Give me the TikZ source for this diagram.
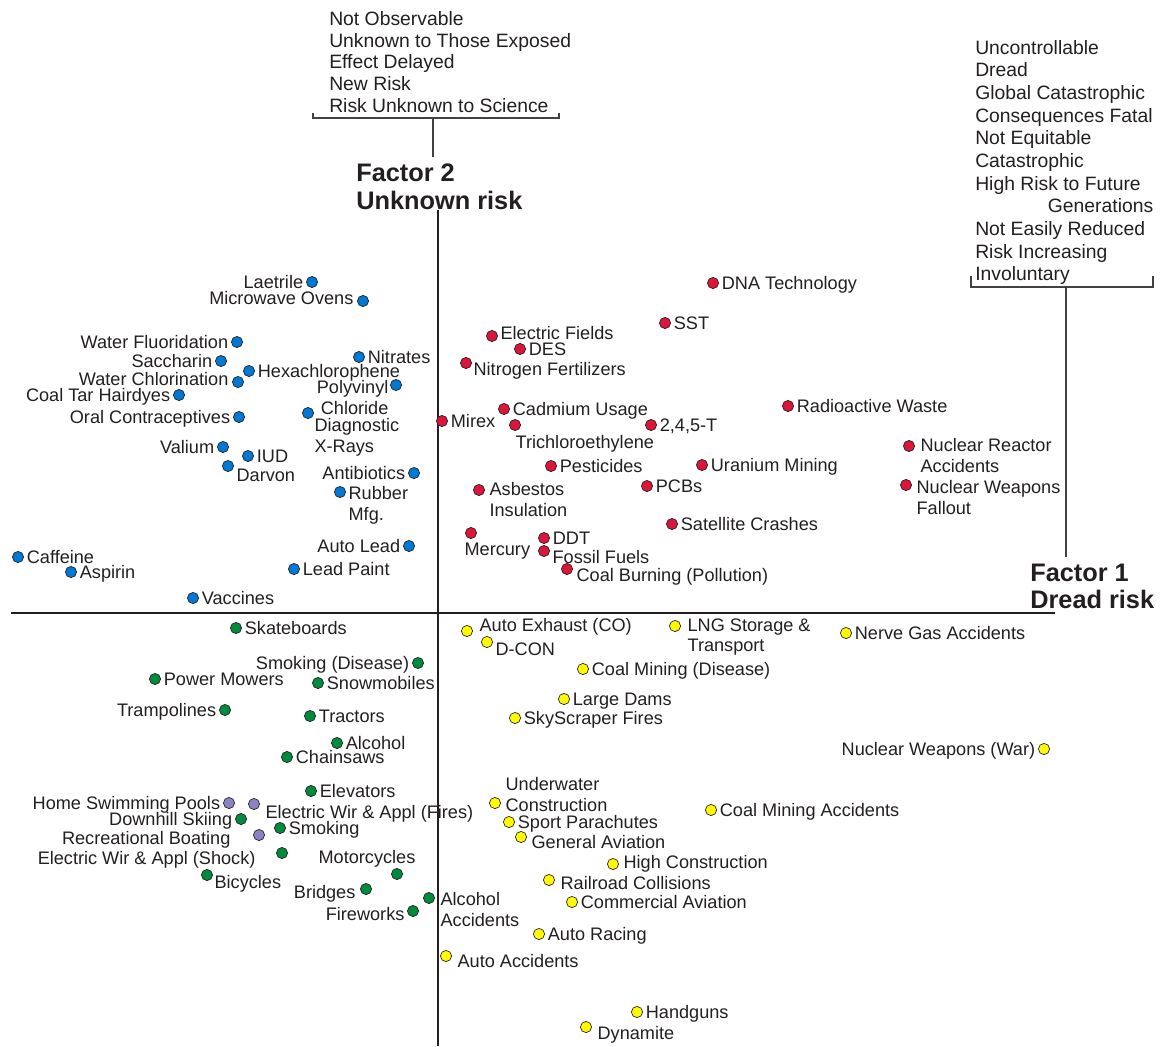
\documentclass[tikz,border=0pt]{standalone}
\usepackage{fontspec}
\setmainfont{Liberation Sans}
\usetikzlibrary{positioning}

\definecolor{riskblue}{RGB}{0,120,212}
\definecolor{riskred}{RGB}{218,22,60}
\definecolor{riskgreen}{RGB}{0,138,62}
\definecolor{riskyellow}{RGB}{255,250,0}
\definecolor{riskpurple}{RGB}{140,132,192}
\definecolor{ink}{RGB}{35,31,32}

\tikzset{
  riskdot/.style={circle, draw=ink, line width=0.5pt, minimum size=8.4pt, inner sep=0pt},
  bdot/.style={riskdot, fill=riskblue},
  rdot/.style={riskdot, fill=riskred},
  gdot/.style={riskdot, fill=riskgreen},
  ydot/.style={riskdot, fill=riskyellow},
  pdot/.style={riskdot, fill=riskpurple},
  lbl/.style={font=\fontsize{13.6}{15.4}\selectfont, text=ink, inner sep=1pt, text height=9.8pt, text depth=0pt},
  lbls/.style={font=\fontsize{13.6}{15.4}\selectfont, text=ink, inner sep=1pt, align=left},
  traits/.style={font=\fontsize{14.5}{17}\selectfont, text=ink, inner sep=0pt, align=left},
  traitsup/.style={traits, font=\fontsize{14.5}{16.3}\selectfont},
  factor/.style={font=\fontsize{19}{20.3}\selectfont\bfseries, text=ink, inner sep=0pt, align=left},
  axis/.style={draw=ink, line width=2.2pt},
  brace/.style={draw=ink!85, line width=1pt}
}

\begin{document}
\begin{tikzpicture}[x=0.75pt, y=-0.75pt, node distance=1pt]
  \useasboundingbox (0,0) rectangle (1163,1046);

  % axes
  \coordinate (xleft) at (11,613);
  \coordinate (xright) at (1055,613);
  \coordinate (ytop) at (438,210);
  \coordinate (ybottom) at (438,1046);
  \draw[axis] (xleft) -- (xright);
  \draw[axis] (ytop) -- (ybottom);

  % factor 2 (unknown risk)
  \node[traitsup, anchor=north west] (unknownlist) at (329,11)
    {Not Observable\\Unknown to Those Exposed\\Effect Delayed\\New Risk\\Risk Unknown to Science};
  \coordinate (ubl) at (313,113);
  \coordinate (ubr) at (559,113);
  \coordinate (ustem) at (433,118);
  \coordinate (ustemend) at (433,157);
  \draw[brace] (ubl) -- ++(0,5) -| (ubr);
  \draw[brace] (ustem) -- (ustemend);
  \node[factor, anchor=north west] (factor2) at (356,164) {Factor 2\\Unknown risk};

  % factor 1 (dread risk)
  \node[traits, anchor=north west] (dreadlist) at (975,40)
    {Uncontrollable\\Dread\\Global Catastrophic\\Consequences Fatal\\Not Equitable\\Catastrophic\\High Risk to Future\\\hspace*{54.5pt}Generations\\Not Easily Reduced\\Risk Increasing\\Involuntary};
  \coordinate (dbl) at (971,276);
  \coordinate (dbr) at (1153,276);
  \coordinate (dstem) at (1066,287);
  \coordinate (dstemend) at (1066,557);
  \draw[brace] (dbl) -- ++(0,11) -| (dbr);
  \draw[brace] (dstem) -- (dstemend);
  \node[factor, anchor=north west] (factor1) at (1030,564) {Factor 1\\Dread risk};

  % blue: unknown, not dreaded
  \node[bdot] (laetrile) at (312,282) {}; \node[lbl, left=of laetrile] (laetrile-t) {Laetrile};
  \node[bdot] (microwave) at (363,301) {}; \node[lbl, anchor=east] (microwave-t) at (355,298) {Microwave Ovens};
  \node[bdot] (fluor) at (237,342) {}; \node[lbl, left=of fluor] (fluor-t) {Water Fluoridation};
  \node[bdot] (saccharin) at (221,361) {}; \node[lbl, left=of saccharin] (saccharin-t) {Saccharin};
  \node[bdot] (hexa) at (249,371) {}; \node[lbl, right=of hexa] (hexa-t) {Hexachlorophene};
  \node[bdot] (chlorin) at (238,382) {}; \node[lbl, anchor=east] (chlorin-t) at (230,379) {Water Chlorination};
  \node[bdot] (hairdyes) at (179,395) {}; \node[lbl, left=of hairdyes] (hairdyes-t) {Coal Tar Hairdyes};
  \node[bdot] (oral) at (239,417) {}; \node[lbl, left=of oral] (oral-t) {Oral Contraceptives};
  \node[bdot] (nitrates) at (359,357) {}; \node[lbl, right=of nitrates] (nitrates-t) {Nitrates};
  \node[bdot] (pvc) at (396,385) {}; \node[lbls, align=right, anchor=north east] (pvc-t) at (390,379) {Polyvinyl\\Chloride};
  \node[bdot] (xrays) at (308,413) {}; \node[lbls, anchor=north west] (xrays-t) at (313,417) {Diagnostic\\X-Rays};
  \node[bdot] (valium) at (223,447) {}; \node[lbl, left=of valium] (valium-t) {Valium};
  \node[bdot] (iud) at (248,456) {}; \node[lbl, right=of iud] (iud-t) {IUD};
  \node[bdot] (darvon) at (228,466) {}; \node[lbl, anchor=west] (darvon-t) at (235,475) {Darvon};
  \node[bdot] (antibiotics) at (414,473) {}; \node[lbl, left=of antibiotics] (antibiotics-t) {Antibiotics};
  \node[bdot] (rubber) at (340,492) {}; \node[lbls, anchor=north west] (rubber-t) at (347,485) {Rubber\\Mfg.};
  \node[bdot] (autolead) at (409,546) {}; \node[lbl, left=of autolead] (autolead-t) {Auto Lead};
  \node[bdot] (caffeine) at (18,557) {}; \node[lbl, right=of caffeine] (caffeine-t) {Caffeine};
  \node[bdot] (aspirin) at (71,572) {}; \node[lbl, right=of aspirin] (aspirin-t) {Aspirin};
  \node[bdot] (leadpaint) at (294,569) {}; \node[lbl, right=of leadpaint] (leadpaint-t) {Lead Paint};
  \node[bdot] (vaccines) at (193,598) {}; \node[lbl, right=of vaccines] (vaccines-t) {Vaccines};

  % red: unknown and dreaded
  \node[rdot] (dna) at (713,283) {}; \node[lbl, right=of dna] (dna-t) {DNA Technology};
  \node[rdot] (sst) at (665,323) {}; \node[lbl, right=of sst] (sst-t) {SST};
  \node[rdot] (efields) at (492,336) {}; \node[lbl, anchor=west] (efields-t) at (499,333) {Electric Fields};
  \node[rdot] (des) at (520,349) {}; \node[lbl, right=of des] (des-t) {DES};
  \node[rdot] (nitrogen) at (466,363) {}; \node[lbl, anchor=west] (nitrogen-t) at (472,369) {Nitrogen Fertilizers};
  \node[rdot] (cadmium) at (504,409) {}; \node[lbl, right=of cadmium] (cadmium-t) {Cadmium Usage};
  \node[rdot] (mirex) at (442,421) {}; \node[lbl, right=of mirex] (mirex-t) {Mirex};
  \node[rdot] (trichlor) at (515,425) {}; \node[lbl, anchor=west] (trichlor-t) at (514,442) {Trichloroethylene};
  \node[rdot] (t245) at (651,425) {}; \node[lbl, right=of t245] (t245-t) {2,4,5-T};
  \node[rdot] (radwaste) at (788,406) {}; \node[lbl, right=of radwaste] (radwaste-t) {Radioactive Waste};
  \node[rdot] (pesticides) at (551,466) {}; \node[lbl, right=of pesticides] (pesticides-t) {Pesticides};
  \node[rdot] (uranium) at (702,465) {}; \node[lbl, right=of uranium] (uranium-t) {Uranium Mining};
  \node[rdot] (asbestos) at (479,490) {}; \node[lbls, anchor=north west] (asbestos-t) at (488,481) {Asbestos\\Insulation};
  \node[rdot] (pcbs) at (647,486) {}; \node[lbl, right=of pcbs] (pcbs-t) {PCBs};
  \node[rdot] (satellite) at (672,524) {}; \node[lbl, right=of satellite] (satellite-t) {Satellite Crashes};
  \node[rdot] (mercury) at (471,533) {}; \node[lbl, anchor=west] (mercury-t) at (463,549) {Mercury};
  \node[rdot] (ddt) at (544,538) {}; \node[lbl, right=of ddt] (ddt-t) {DDT};
  \node[rdot] (fossil) at (544,551) {}; \node[lbl, anchor=west] (fossil-t) at (551,557) {Fossil Fuels};
  \node[rdot] (coalburn) at (567,569) {}; \node[lbl, anchor=west] (coalburn-t) at (575,575) {Coal Burning (Pollution)};
  \node[rdot] (reactor) at (909,446) {}; \node[lbls, anchor=north west] (reactor-t) at (919,437) {Nuclear Reactor\\Accidents};
  \node[rdot] (fallout) at (906,485) {}; \node[lbls, anchor=north west] (fallout-t) at (915,479) {Nuclear Weapons\\Fallout};

  % yellow: known and dreaded
  \node[ydot] (autoexh) at (467,631) {}; \node[lbl, anchor=west] (autoexh-t) at (478,625) {Auto Exhaust (CO)};
  \node[ydot] (dcon) at (487,642) {}; \node[lbl, anchor=west] (dcon-t) at (494,649) {D-CON};
  \node[ydot] (lng) at (675,626) {}; \node[lbls, anchor=north west] (lng-t) at (686,617) {LNG Storage \&\\Transport};
  \node[ydot] (nervegas) at (846,633) {}; \node[lbl, right=of nervegas] (nervegas-t) {Nerve Gas Accidents};
  \node[ydot] (coaldis) at (583,669) {}; \node[lbl, right=of coaldis] (coaldis-t) {Coal Mining (Disease)};
  \node[ydot] (dams) at (564,699) {}; \node[lbl, right=of dams] (dams-t) {Large Dams};
  \node[ydot] (skyscraper) at (515,718) {}; \node[lbl, right=of skyscraper] (skyscraper-t) {SkyScraper Fires};
  \node[ydot] (nukewar) at (1044,749) {}; \node[lbl, left=of nukewar] (nukewar-t) {Nuclear Weapons (War)};
  \node[ydot] (underwater) at (495,803) {}; \node[lbls, anchor=north west] (underwater-t) at (504,776) {Underwater\\Construction};
  \node[ydot] (coalacc) at (711,810) {}; \node[lbl, right=of coalacc] (coalacc-t) {Coal Mining Accidents};
  \node[ydot] (parachutes) at (509,822) {}; \node[lbl, right=of parachutes] (parachutes-t) {Sport Parachutes};
  \node[ydot] (genav) at (521,837) {}; \node[lbl, anchor=west] (genav-t) at (530,842) {General Aviation};
  \node[ydot] (highcon) at (613,864) {}; \node[lbl, anchor=west] (highcon-t) at (622,862) {High Construction};
  \node[ydot] (railroad) at (549,880) {}; \node[lbl, anchor=west] (railroad-t) at (559,883) {Railroad Collisions};
  \node[ydot] (commav) at (572,902) {}; \node[lbl, right=of commav] (commav-t) {Commercial Aviation};
  \node[ydot] (autoracing) at (539,934) {}; \node[lbl, right=of autoracing] (autoracing-t) {Auto Racing};
  \node[ydot] (autoacc) at (446,956) {}; \node[lbl, anchor=west] (autoacc-t) at (456,961) {Auto Accidents};
  \node[ydot] (handguns) at (637,1012) {}; \node[lbl, right=of handguns] (handguns-t) {Handguns};
  \node[ydot] (dynamite) at (586,1027) {}; \node[lbl, anchor=west] (dynamite-t) at (596,1033) {Dynamite};

  % green: known, not dreaded
  \node[gdot] (skate) at (236,628) {}; \node[lbl, right=of skate] (skate-t) {Skateboards};
  \node[gdot] (smokedis) at (418,663) {}; \node[lbl, left=of smokedis] (smokedis-t) {Smoking (Disease)};
  \node[gdot] (mowers) at (155,679) {}; \node[lbl, right=of mowers] (mowers-t) {Power Mowers};
  \node[gdot] (snowmob) at (318,683) {}; \node[lbl, right=of snowmob] (snowmob-t) {Snowmobiles};
  \node[gdot] (trampo) at (225,710) {}; \node[lbl, left=of trampo] (trampo-t) {Trampolines};
  \node[gdot] (tractors) at (310,716) {}; \node[lbl, right=of tractors] (tractors-t) {Tractors};
  \node[gdot] (alcohol) at (337,743) {}; \node[lbl, right=of alcohol] (alcohol-t) {Alcohol};
  \node[gdot] (chainsaws) at (287,757) {}; \node[lbl, right=of chainsaws] (chainsaws-t) {Chainsaws};
  \node[gdot] (elevators) at (311,791) {}; \node[lbl, right=of elevators] (elevators-t) {Elevators};
  \node[gdot] (skiing) at (241,819) {}; \node[lbl, left=of skiing] (skiing-t) {Downhill Skiing};
  \node[gdot] (smoking) at (280,828) {}; \node[lbl, right=of smoking] (smoking-t) {Smoking};
  \node[gdot] (shock) at (282,853) {}; \node[lbl, anchor=east] (shock-t) at (257,858) {Electric Wir \& Appl (Shock)};
  \node[gdot] (motorcycles) at (397,874) {}; \node[lbl, anchor=west] (motorcycles-t) at (317,857) {Motorcycles};
  \node[gdot] (bicycles) at (207,875) {}; \node[lbl, anchor=west] (bicycles-t) at (213,882) {Bicycles};
  \node[gdot] (bridges) at (366,889) {}; \node[lbl, anchor=east] (bridges-t) at (357,892) {Bridges};
  \node[gdot] (alcacc) at (429,898) {}; \node[lbls, anchor=north west] (alcacc-t) at (439,891) {Alcohol\\Accidents};
  \node[gdot] (fireworks) at (413,911) {}; \node[lbl, anchor=east] (fireworks-t) at (406,914) {Fireworks};

  % purple
  \node[pdot] (pools) at (229,803) {}; \node[lbl, left=of pools] (pools-t) {Home Swimming Pools};
  \node[pdot] (fires) at (254,804) {}; \node[lbl, anchor=west] (fires-t) at (264,812) {Electric Wir \& Appl (Fires)};
  \node[pdot] (boating) at (259,835) {}; \node[lbl, anchor=east] (boating-t) at (232,838) {Recreational Boating};
\end{tikzpicture}
\end{document}
